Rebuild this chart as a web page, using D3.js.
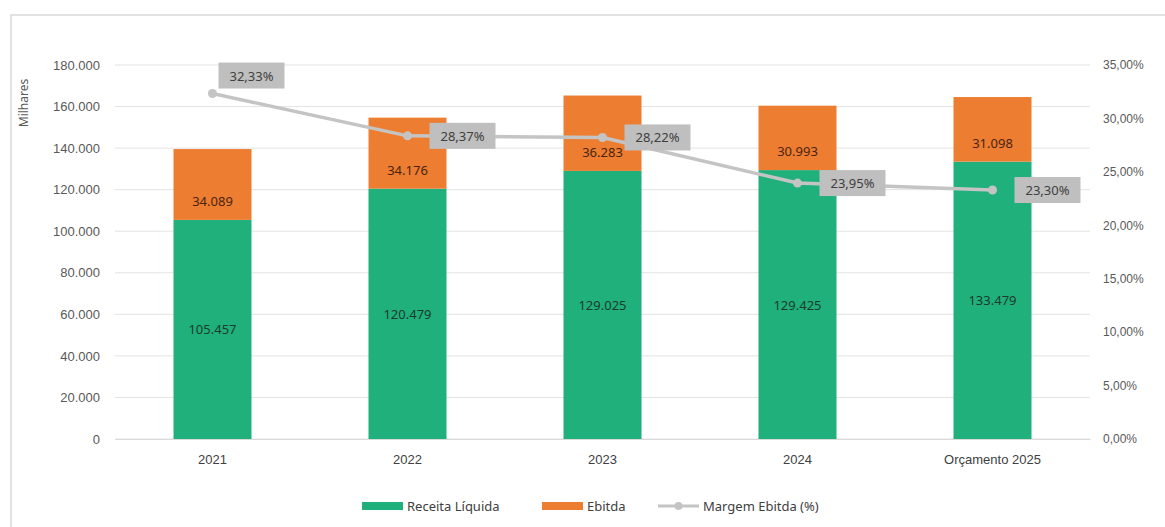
<!DOCTYPE html>
<html>
<head>
<meta charset="utf-8">
<script src="https://cdn.jsdelivr.net/npm/d3@7"></script>
<style>
  body { margin: 0; background: #fff; }
  svg { font-family: "Noto Sans", "Open Sans", sans-serif; }
</style>
</head>
<body>
<div id="chart-area"></div>
<script>
const years = ["2021", "2022", "2023", "2024", "Orçamento 2025"];
const receita = [105457, 120479, 129025, 129425, 133479];
const ebitda = [34089, 34176, 36283, 30993, 31098];
const margem = [0.3233, 0.2837, 0.2822, 0.2395, 0.2330];
const leftTicks = [0, 20000, 40000, 60000, 80000, 100000, 120000, 140000, 160000, 180000];
const rightTicks = [0, 0.05, 0.10, 0.15, 0.20, 0.25, 0.30, 0.35];

const ptBR = d3.formatLocale({ decimal: ",", thousands: ".", grouping: [3], currency: ["R$", ""] });
const fmtNum = ptBR.format(",");
const fmtPct = ptBR.format(".2%");

const drawGraph = () => {
  const width = 1165;
  const height = 527;
  const margin = { top: 65, left: 115, right: 75, bottom: 88 };
  const plotHeight = height - margin.top - margin.bottom;
  const plotWidth = width - margin.left - margin.right;

  const svg = d3.select("#chart-area")
                .append("svg")
                .attr("width", width)
                .attr("height", height);

  // chart frame (only top and left edges visible)
  svg.append("path")
     .attr("d", `M11,${height} V15 H${width}`)
     .attr("fill", "none")
     .attr("stroke", "#d9d9d9")
     .attr("stroke-width", 1.5);

  const x = d3.scaleBand()
              .domain(years)
              .range([0, plotWidth])
              .paddingInner(0.6)
              .paddingOuter(0.3);

  const y = d3.scaleLinear()
              .domain([0, 180000])
              .range([plotHeight, 0]);

  const y2 = d3.scaleLinear()
               .domain([0, 0.35])
               .range([plotHeight, 0]);

  const g = svg.append("g")
               .attr("transform", "translate(" + margin.left + ", " + margin.top + ")");

  // gridlines
  g.append("g")
   .selectAll("line")
   .data(leftTicks)
   .enter()
   .append("line")
   .attr("x1", 0)
   .attr("x2", plotWidth)
   .attr("y1", d => y(d))
   .attr("y2", d => y(d))
   .attr("stroke", "#e3e3e3")
   .attr("stroke-width", 1);

  const axisLeft = d3.axisLeft(y).tickValues(leftTicks).tickFormat(fmtNum).tickSize(0).tickPadding(15);
  g.append("g")
   .attr("id", "y-axis")
   .call(axisLeft)
   .call(a => a.select(".domain").remove())
   .selectAll("text")
   .attr("fill", "#595959")
   .style("font-size", "13px");

  const axisRight = d3.axisRight(y2).tickValues(rightTicks).tickFormat(fmtPct).tickSize(0).tickPadding(13);
  g.append("g")
   .attr("id", "y2-axis")
   .attr("transform", "translate(" + plotWidth + ",0)")
   .call(axisRight)
   .call(a => a.select(".domain").remove())
   .selectAll("text")
   .attr("fill", "#595959")
   .style("font-size", "12px");

  const axisBottom = d3.axisBottom(x).tickSize(0).tickPadding(16);
  g.append("g")
   .attr("id", "x-axis")
   .attr("transform", "translate(0," + plotHeight + ")")
   .call(axisBottom)
   .call(a => a.select(".domain").attr("stroke", "#d9d9d9"))
   .selectAll("text")
   .attr("fill", "#404040")
   .style("font-size", "13px");

  svg.append("text")
     .attr("text-anchor", "middle")
     .attr("transform", "translate(28,103) rotate(-90)")
     .attr("fill", "#595959")
     .style("font-size", "12px")
     .text("Milhares");

  // bars
  const green = "#1fb07b";
  const orange = "#ed7d31";

  g.append("g")
   .selectAll("rect")
   .data(years)
   .enter()
   .append("rect")
   .attr("x", d => x(d))
   .attr("width", x.bandwidth())
   .attr("y", (d, i) => y(receita[i]))
   .attr("height", (d, i) => plotHeight - y(receita[i]))
   .attr("fill", green);

  g.append("g")
   .selectAll("rect")
   .data(years)
   .enter()
   .append("rect")
   .attr("x", d => x(d))
   .attr("width", x.bandwidth())
   .attr("y", (d, i) => y(receita[i] + ebitda[i]))
   .attr("height", (d, i) => y(receita[i]) - y(receita[i] + ebitda[i]))
   .attr("fill", orange);

  g.append("g")
   .selectAll("text")
   .data(years)
   .enter()
   .append("text")
   .attr("text-anchor", "middle")
   .attr("x", d => x(d) + x.bandwidth() / 2)
   .attr("y", (d, i) => (y(0) + y(receita[i])) / 2 + 5)
   .attr("fill", "#1d3b2c")
   .style("font-size", "13px")
   .text((d, i) => fmtNum(receita[i]));

  g.append("g")
   .selectAll("text")
   .data(years)
   .enter()
   .append("text")
   .attr("text-anchor", "middle")
   .attr("x", d => x(d) + x.bandwidth() / 2)
   .attr("y", (d, i) => y(receita[i]) - 14)
   .attr("fill", "#4a2410")
   .style("font-size", "13px")
   .text((d, i) => fmtNum(ebitda[i]));

  // margin line
  const cx = (d, i) => x(years[i]) + x.bandwidth() / 2;
  const line = d3.line()
                 .x((d, i) => cx(d, i))
                 .y(d => y2(d));

  g.append("path")
   .datum(margem)
   .attr("d", line)
   .attr("fill", "none")
   .attr("stroke", "#c4c4c4")
   .attr("stroke-width", 3.5)
   .attr("stroke-linejoin", "round");

  g.append("g")
   .selectAll("circle")
   .data(margem)
   .enter()
   .append("circle")
   .attr("cx", cx)
   .attr("cy", d => y2(d))
   .attr("r", 4.5)
   .attr("fill", "#c4c4c4");

  const labels = g.append("g")
                  .selectAll("g")
                  .data(margem)
                  .enter()
                  .append("g")
                  .attr("transform", (d, i) => {
                    // first label sits above its point, the others to the right
                    if (i === 0) {
                      return `translate(${cx(d, i) + 6},${y2(d) - 31})`;
                    } else {
                      return `translate(${cx(d, i) + 22},${y2(d) - 13})`;
                    }
                  });

  labels.append("rect")
        .attr("width", 66)
        .attr("height", 26)
        .attr("fill", "#bfbfbf");

  labels.append("text")
        .attr("x", 33)
        .attr("y", 18)
        .attr("text-anchor", "middle")
        .attr("fill", "#404040")
        .style("font-size", "13px")
        .text(d => fmtPct(d));

  // legend
  const legend = svg.append("g")
                    .attr("transform", "translate(362,506)");

  const items = [
    { name: "Receita Líquida", color: green, x: 0, type: "rect" },
    { name: "Ebitda", color: orange, x: 180, type: "rect" },
    { name: "Margem Ebitda (%)", color: "#c4c4c4", x: 296, type: "line" }
  ];

  items.forEach(item => {
    const it = legend.append("g").attr("transform", "translate(" + item.x + ",0)");
    if (item.type === "rect") {
      it.append("rect")
        .attr("x", 0)
        .attr("y", -4)
        .attr("width", 41)
        .attr("height", 8)
        .attr("fill", item.color);
    } else {
      it.append("line")
        .attr("x1", 0)
        .attr("x2", 41)
        .attr("y1", 0)
        .attr("y2", 0)
        .attr("stroke", item.color)
        .attr("stroke-width", 3);
      it.append("circle")
        .attr("cx", 20.5)
        .attr("cy", 0)
        .attr("r", 4)
        .attr("fill", item.color);
    }
    it.append("text")
      .attr("x", 45)
      .attr("y", 4.5)
      .attr("fill", "#404040")
      .style("font-size", "13px")
      .text(item.name);
  });
};

drawGraph();
</script>
</body>
</html>
